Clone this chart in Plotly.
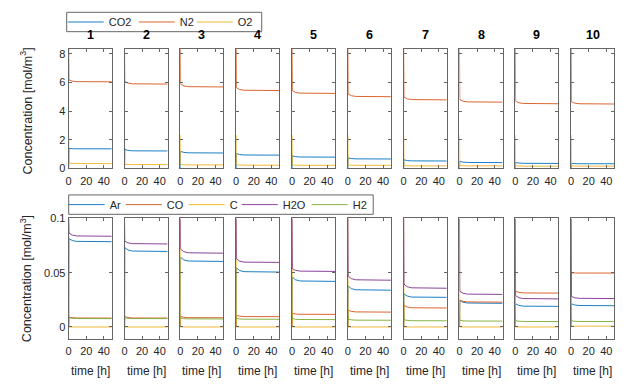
import plotly.graph_objects as go

W, H = 623, 385

# ---------------- data ----------------
time_h = [0, 0.3, 4, 9, 49]
panel_titles = ["1", "2", "3", "4", "5", "6", "7", "8", "9", "10"]

# top row [mol/m3]
CO2 = [
    [0, 1.39, 1.38, 1.37, 1.37],
    [0, 1.33, 1.26, 1.23, 1.22],
    [0, 1.19, 1.12, 1.09, 1.08],
    [0, 1.04, 0.97, 0.94, 0.93],
    [0, 0.88, 0.82, 0.80, 0.79],
    [0, 0.74, 0.69, 0.67, 0.66],
    [0, 0.61, 0.55, 0.53, 0.52],
    [0, 0.50, 0.44, 0.42, 0.41],
    [0, 0.42, 0.38, 0.36, 0.35],
    [0, 0.35, 0.34, 0.33, 0.33],
]
N2 = [
    [8.33, 6.17, 6.09, 6.05, 6.04],
    [8.33, 6.06, 5.95, 5.90, 5.88],
    [8.33, 5.88, 5.75, 5.70, 5.68],
    [8.33, 5.63, 5.50, 5.45, 5.43],
    [8.33, 5.43, 5.30, 5.25, 5.23],
    [8.33, 5.20, 5.07, 5.02, 5.00],
    [8.33, 4.98, 4.85, 4.80, 4.78],
    [8.33, 4.80, 4.69, 4.64, 4.62],
    [8.33, 4.69, 4.58, 4.53, 4.51],
    [8.33, 4.66, 4.55, 4.51, 4.49],
]
O2 = [
    [2.34, 0.36, 0.35, 0.34, 0.34],
    [2.34, 0.29, 0.28, 0.27, 0.27],
    [2.34, 0.27, 0.26, 0.25, 0.25],
    [2.33, 0.25, 0.24, 0.23, 0.23],
    [2.33, 0.24, 0.23, 0.22, 0.22],
    [2.32, 0.24, 0.23, 0.22, 0.22],
    [2.32, 0.20, 0.19, 0.18, 0.18],
    [2.32, 0.20, 0.19, 0.18, 0.18],
    [2.32, 0.18, 0.17, 0.16, 0.16],
    [2.32, 0.18, 0.17, 0.16, 0.16],
]

# bottom row [mol/m3]
Ar = [
    [0, 0.0815, 0.0797, 0.0789, 0.0786],
    [0, 0.0732, 0.0709, 0.0700, 0.0696],
    [0, 0.0643, 0.0618, 0.0608, 0.0604],
    [0, 0.0545, 0.0520, 0.0510, 0.0506],
    [0, 0.0461, 0.0435, 0.0424, 0.0420],
    [0, 0.0378, 0.0353, 0.0343, 0.0339],
    [0, 0.0306, 0.0285, 0.0276, 0.0273],
    [0, 0.0246, 0.0228, 0.0221, 0.0218],
    [0, 0.0214, 0.0199, 0.0192, 0.0190],
    [0, 0.0214, 0.0203, 0.0198, 0.0196],
]
CO = [
    [0, 0.0092, 0.0086, 0.0083, 0.0082],
    [0, 0.0095, 0.0087, 0.0083, 0.0082],
    [0, 0.0098, 0.0090, 0.0086, 0.0085],
    [0, 0.0107, 0.0099, 0.0096, 0.0095],
    [0, 0.0128, 0.0120, 0.0117, 0.0116],
    [0, 0.0155, 0.0144, 0.0139, 0.0137],
    [0, 0.0199, 0.0184, 0.0177, 0.0175],
    [0, 0.0248, 0.0236, 0.0231, 0.0229],
    [0, 0.0330, 0.0319, 0.0314, 0.0312],
    [0, 0.0499, 0.0498, 0.0497, 0.0497],
]
C = [
    [0.1, 0, 0, 0, 0],
    [0.1, 0, 0, 0, 0],
    [0.1, 0, 0, 0, 0],
    [0.1, 0, 0, 0, 0],
    [0.1, 0, 0, 0, 0],
    [0.1, 0, 0, 0, 0],
    [0.1, 0, 0, 0, 0],
    [0.1, 0, 0, 0, 0],
    [0.1, 0, 0, 0, 0],
    [0.1, 0.0008, 0.0008, 0.0008, 0.0008],
]
H2O = [
    [0.1, 0.0865, 0.0847, 0.0839, 0.0836],
    [0.1, 0.0791, 0.0775, 0.0768, 0.0765],
    [0.1, 0.0717, 0.0694, 0.0684, 0.0680],
    [0.1, 0.0628, 0.0607, 0.0598, 0.0595],
    [0.1, 0.0538, 0.0522, 0.0515, 0.0512],
    [0.1, 0.0470, 0.0445, 0.0435, 0.0431],
    [0.1, 0.0396, 0.0371, 0.0361, 0.0357],
    [0.1, 0.0330, 0.0311, 0.0303, 0.0300],
    [0.1, 0.0289, 0.0270, 0.0262, 0.0259],
    [0.1, 0.0282, 0.0269, 0.0264, 0.0262],
]
H2 = [
    [0.0095, 0.0085, 0.0080, 0.0078, 0.0077],
    [0.0095, 0.0085, 0.0080, 0.0078, 0.0077],
    [0.0095, 0.0082, 0.0077, 0.0075, 0.0074],
    [0.0100, 0.0079, 0.0074, 0.0072, 0.0071],
    [0.0110, 0.0077, 0.0071, 0.0069, 0.0068],
    [0.0120, 0.0072, 0.0066, 0.0063, 0.0062],
    [0.0130, 0.0067, 0.0061, 0.0058, 0.0057],
    [0.0120, 0.0063, 0.0057, 0.0055, 0.0054],
    [0.0110, 0.0059, 0.0053, 0.0051, 0.0050],
    [0.0090, 0.0058, 0.0053, 0.0051, 0.0050],
]

top_series = [("CO2", CO2), ("N2", N2), ("O2", O2)]
bottom_series = [("Ar", Ar), ("CO", CO), ("C", C), ("H2O", H2O), ("H2", H2)]

x_ticks = [0, 20, 40]
top_yticks = [0, 2, 4, 6, 8]
bottom_yticks = [0, 0.05, 0.1]
bottom_yticklabels = ["0", "0.05", "0.1"]

# ---------------- style ----------------
matlab = ["#0072BD", "#D95319", "#EDB120", "#7E2F8E", "#77AC30"]
FONT = "Liberation Sans, Arial, Helvetica, sans-serif"
AXC = "#666666"
TXT = "#262626"

x_range = [0, 49]
top_range = [0, 8.33]
bottom_range = [-0.0107, 0.1]

left0, step, pw = 66.0, 56.1, 43.3
top_dom = [1 - 167.7 / H, 1 - 44.3 / H]
bot_dom = [1 - 343.3 / H, 1 - 219.3 / H]

# legend entry text-slot widths (px) to mimic MATLAB's compact spacing
top_lw = [20, 7, 16]
bot_lw = [6, 12, 2, 19, 17]

fig = go.Figure()
layout = {}

def axname(n, kind):
    return kind if n == 1 else f"{kind}{n}"

for i in range(10):
    xl = (left0 + step * i) / W
    xr = (left0 + step * i + pw) / W
    for row in (0, 1):
        n = i + 1 + 10 * row
        series = top_series if row == 0 else bottom_series
        lws = top_lw if row == 0 else bot_lw
        for k, (name, vals) in enumerate(series):
            fig.add_trace(go.Scatter(
                x=time_h, y=vals[i], mode="lines", name=name,
                line=dict(color=matlab[k], width=0.9),
                xaxis=axname(n, "x"), yaxis=axname(n, "y"),
                legend="legend" if row == 0 else "legend2",
                legendgroup=f"{row}-{name}", showlegend=(i == 0),
                legendwidth=lws[k],
                hoverinfo="skip",
            ))
        xa = dict(domain=[xl, xr], range=x_range, anchor=axname(n, "y"),
                  tickvals=x_ticks, ticks="inside", ticklen=3, tickcolor=AXC,
                  showline=True, linecolor=AXC, linewidth=1, mirror="ticks",
                  showgrid=False, zeroline=False, fixedrange=True,
                  tickfont=dict(family=FONT, size=11, color=TXT),
                  ticklabelstandoff=2)
        ya = dict(domain=top_dom if row == 0 else bot_dom,
                  range=top_range if row == 0 else bottom_range,
                  anchor=axname(n, "x"),
                  tickvals=top_yticks if row == 0 else bottom_yticks,
                  ticktext=[str(v) for v in top_yticks] if row == 0 else bottom_yticklabels,
                  showticklabels=(i == 0),
                  ticks="inside", ticklen=3, tickcolor=AXC,
                  showline=True, linecolor=AXC, linewidth=1, mirror="ticks",
                  showgrid=False, zeroline=False, fixedrange=True,
                  tickfont=dict(family=FONT, size=11, color=TXT))
        layout["xaxis" if n == 1 else f"xaxis{n}"] = xa
        layout["yaxis" if n == 1 else f"yaxis{n}"] = ya

annotations = []
for i in range(10):
    xc = (left0 + step * i + pw / 2) / W
    annotations.append(dict(text=f"<b>{panel_titles[i]}</b>", x=xc, y=1 - 29.5 / H,
                            xref="paper", yref="paper", showarrow=False,
                            xanchor="center", yanchor="middle",
                            font=dict(family=FONT, size=12.5, color="black")))
    annotations.append(dict(text="time [h]", x=xc, y=1 - 376.5 / H,
                            xref="paper", yref="paper", showarrow=False,
                            xanchor="center", yanchor="middle",
                            font=dict(family=FONT, size=12, color=TXT)))
for yc in (108, 281):
    annotations.append(dict(text="Concentration [mol/m<sup>3</sup>]", x=23 / W, y=1 - yc / H,
                            xref="paper", yref="paper", showarrow=False, textangle=-90,
                            xanchor="center", yanchor="middle",
                            font=dict(family=FONT, size=12.5, color=TXT)))

# legend frames
shapes = [
    dict(type="rect", xref="paper", yref="paper", layer="below",
         x0=64 / W, x1=260 / W, y0=1 - 26.5 / H, y1=1 - 6.5 / H,
         line=dict(color=AXC, width=1), fillcolor="white"),
    dict(type="rect", xref="paper", yref="paper", layer="below",
         x0=66 / W, x1=372 / W, y0=1 - 215 / H, y1=1 - 195 / H,
         line=dict(color=AXC, width=1), fillcolor="white"),
]

legend_common = dict(orientation="h", xanchor="left", yanchor="middle",
                     borderwidth=0, bgcolor="rgba(0,0,0,0)",
                     font=dict(family=FONT, size=11, color=TXT), itemwidth=36,
                     tracegroupgap=0)

fig.update_layout(
    **layout,
    width=W, height=H,
    margin=dict(l=0, r=0, t=0, b=0),
    paper_bgcolor="white", plot_bgcolor="white",
    annotations=annotations,
    shapes=shapes,
    legend=dict(x=60 / W, y=1 - 16.5 / H, **legend_common),
    legend2=dict(x=61 / W, y=1 - 205 / H, **legend_common),
    font=dict(family=FONT),
)

fig.write_html("out.html")
